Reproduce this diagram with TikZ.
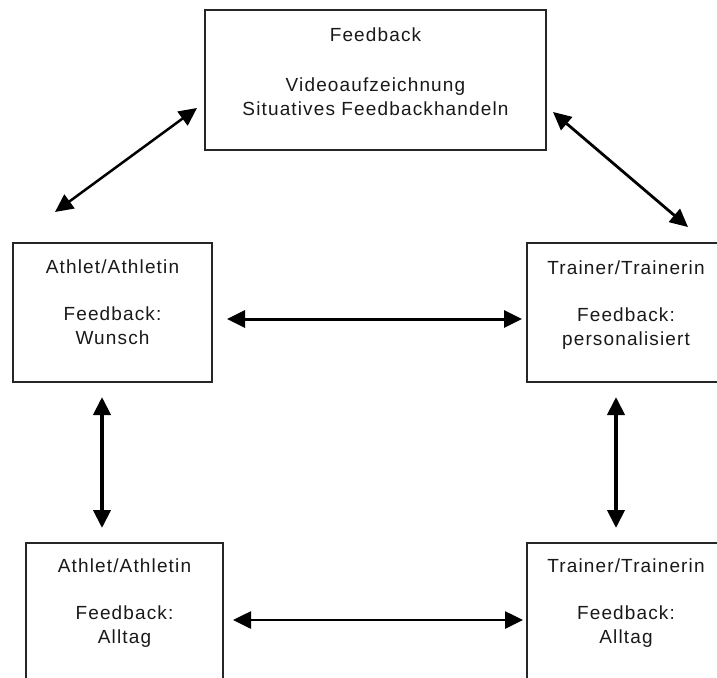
\documentclass[tikz,border=0pt]{standalone}
\usepackage{fontspec}
\setmainfont{Liberation Sans}[LetterSpace=6]
\usetikzlibrary{arrows.meta,calc}
\begin{document}
\begin{tikzpicture}[x=1pt,y=-1pt,
  box/.style={draw=black!85, line width=1.3pt, inner sep=0pt},
  txt/.style={align=center, inner sep=0pt, anchor=north, font=\fontsize{19}{24}\selectfont, text=black!90},
  tip/.tip={Triangle[length=18pt,width=17pt]},
  dbl/.style={tip-tip, line width=3pt, draw=black}]
\useasboundingbox (0,0) rectangle (717,677);
\fill[white] (0,0) rectangle (717,677);
\clip (0,0) rectangle (717,677);
% boxes
\node[box, minimum width=341pt, minimum height=140pt] (fb) at (375.5,80) {};
\node[box, minimum width=199pt, minimum height=139pt] (ath) at (112.5,312.5) {};
\node[box, minimum width=198pt, minimum height=139pt] (tra) at (626,312.5) {};
\node[box, minimum width=197pt, minimum height=140pt] (athA) at (124.5,613) {};
\node[box, minimum width=198pt, minimum height=140pt] (traA) at (626,613) {};
% texts
\node[txt] (fbt) at ($(fb.north)+(0,18.5)$) {Feedback\\[26pt]Videoaufzeichnung\\Situatives Feedbackhandeln};
\node[txt] (atht) at ($(ath.north)+(0,17.5)$) {Athlet/Athletin\\[23pt]Feedback:\\Wunsch};
\node[txt] (trat) at ($(tra.north)+(0,18.5)$) {Trainer/Trainerin\\[23pt]Feedback:\\personalisiert};
\node[txt] (athAt) at ($(athA.north)+(0,16.5)$) {Athlet/Athletin\\[23pt]Feedback:\\Alltag};
\node[txt] (traAt) at ($(traA.north)+(0,16.5)$) {Trainer/Trainerin\\[23pt]Feedback:\\Alltag};
% connector ends
\coordinate (tl1) at (55,212);   \coordinate (tl2) at (197,108);
\coordinate (tr1) at (553,112);  \coordinate (tr2) at (688,227);
\coordinate (mh1) at (227,319);  \coordinate (mh2) at (522,319);
\coordinate (lv1) at (102,397);  \coordinate (lv2) at (102,528);
\coordinate (rv1) at (616,397);  \coordinate (rv2) at (616,528);
\coordinate (bh1) at (233,620);  \coordinate (bh2) at (523,620);
% connectors
\draw[dbl, line width=2.5pt] (tl1) -- (tl2);
\draw[dbl, line width=2.8pt] (tr1) -- (tr2);
\draw[dbl] (mh1) -- (mh2);
\draw[dbl, line width=4pt] (lv1) -- (lv2);
\draw[dbl, line width=4pt] (rv1) -- (rv2);
\draw[dbl, line width=2.6pt] (bh1) -- (bh2);
\end{tikzpicture}
\end{document}
